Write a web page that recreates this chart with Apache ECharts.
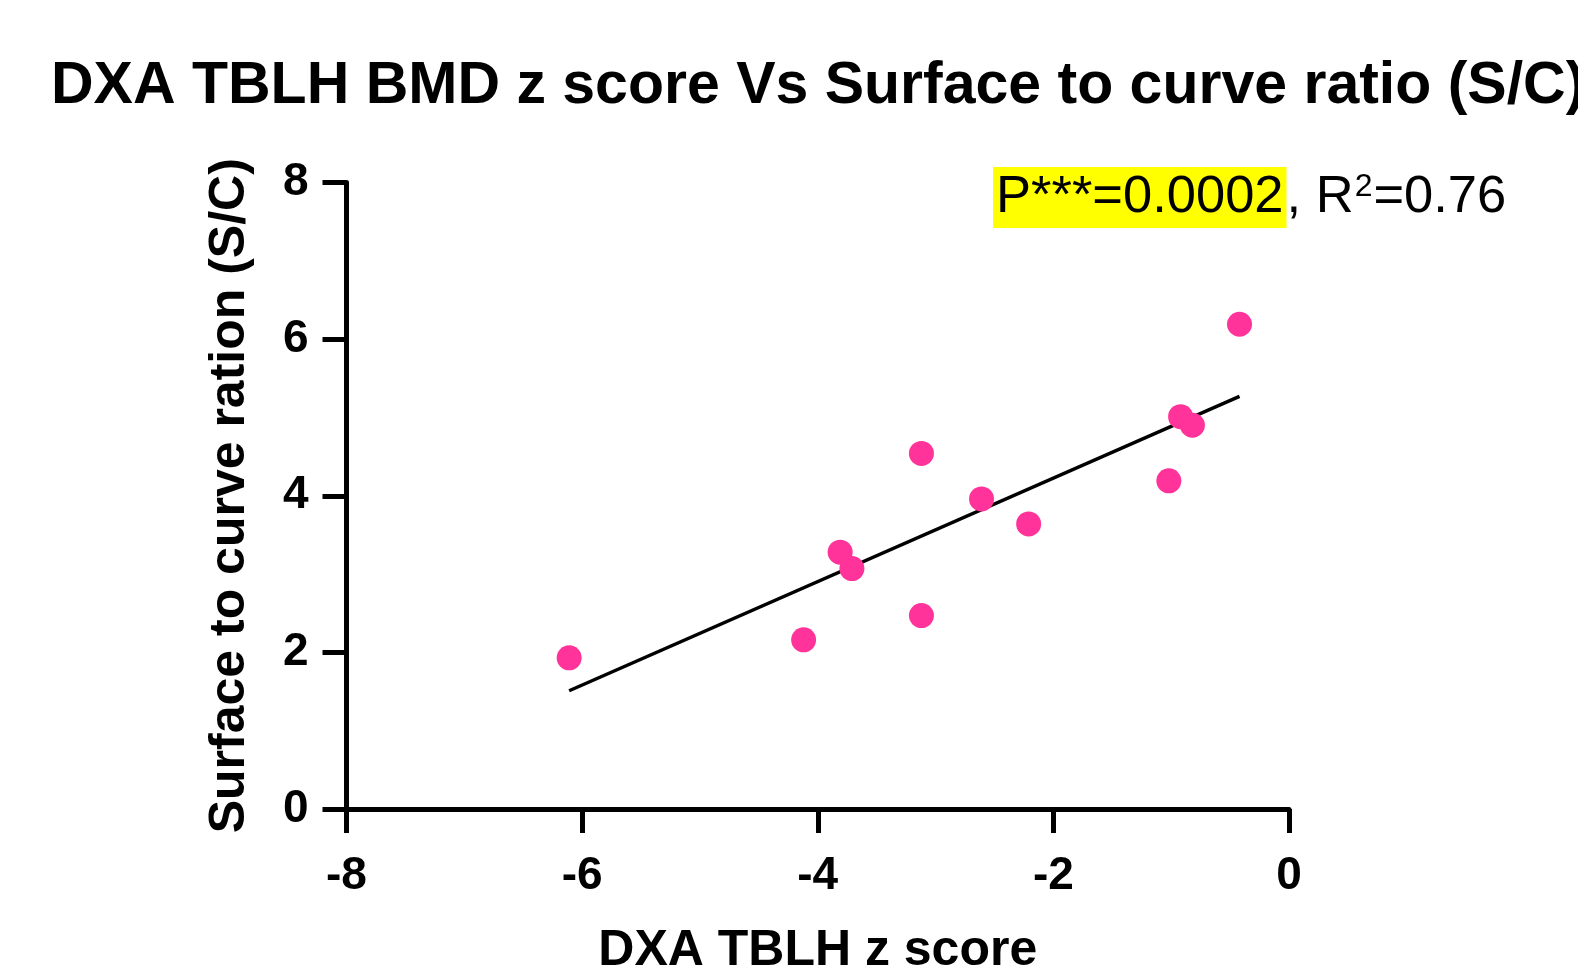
<!DOCTYPE html>
<html>
<head>
<meta charset="utf-8">
<script src="https://cdn.jsdelivr.net/npm/echarts@6/dist/echarts.min.js"></script>
<style>
html,body{margin:0;padding:0;background:#fff;}
#chart{width:1578px;height:969px;}
</style>
</head>
<body>
<div id="chart"></div>
<script>
const titleText = 'DXA TBLH BMD z score Vs Surface to curve ratio (S/C)';
const xAxisName = 'DXA TBLH z score';
const yAxisName = 'Surface to curve ration (S/C)';
const xTicks = [-8, -6, -4, -2, 0];
const yTicks = [0, 2, 4, 6, 8];
const zScores = [-6.11, -4.12, -3.81, -3.71, -3.12, -3.12, -2.61, -2.21, -1.02, -0.92, -0.82, -0.42];
const scRatios = [1.93, 2.16, 3.28, 3.07, 4.54, 2.47, 3.96, 3.64, 4.19, 5.01, 4.90, 6.19];
const fitX = [-6.11, -0.42];
const fitY = [1.51, 5.27];
const pText = 'P***=0.0002';
const rLetter = ', R';
const rSup = '2';
const rValue = '=0.76';

const points = zScores.map((x, i) => [x, scRatios[i]]);
const fitLine = fitX.map((x, i) => [x, fitY[i]]);

const chart = echarts.init(document.getElementById('chart'), null, {renderer: 'canvas'});
const font = 'Liberation Sans, Arial, Helvetica, sans-serif';
chart.setOption({
  backgroundColor: '#ffffff',
  animation: false,
  title: {
    text: titleText,
    left: 46,
    top: 52,
    textStyle: {fontFamily: font, fontWeight: 'bold', fontSize: 59, color: '#000'}
  },
  grid: {left: 346.5, right: 289, top: 182.5, bottom: 160, containLabel: false, outerBoundsMode: 'none'},
  xAxis: {
    type: 'value', min: xTicks[0], max: xTicks[xTicks.length - 1], interval: 2,
    name: xAxisName, nameLocation: 'middle', nameGap: 117,
    nameTextStyle: {fontFamily: font, fontWeight: 'bold', fontSize: 50, color: '#000'},
    axisLine: {show: true, onZero: false, lineStyle: {color: '#000', width: 5}},
    axisTick: {show: true, inside: false, length: 24, lineStyle: {color: '#000', width: 5}},
    axisLabel: {fontFamily: font, fontWeight: 'bold', fontSize: 46, color: '#000', margin: 44},
    splitLine: {show: false}
  },
  yAxis: {
    type: 'value', min: yTicks[0], max: yTicks[yTicks.length - 1], interval: 2,
    name: yAxisName, nameLocation: 'middle', nameGap: 91, nameRotate: 90,
    nameTextStyle: {fontFamily: font, fontWeight: 'bold', fontSize: 50, color: '#000'},
    axisLine: {show: true, onZero: false, lineStyle: {color: '#000', width: 5}},
    axisTick: {show: true, inside: false, length: 24, lineStyle: {color: '#000', width: 5}},
    axisLabel: {fontFamily: font, fontWeight: 'bold', fontSize: 46, color: '#000', margin: 38},
    splitLine: {show: false}
  },
  series: [
    {
      type: 'line', data: fitLine, showSymbol: false, symbol: 'none',
      lineStyle: {color: '#000', width: 3.5}, z: 2
    },
    {
      type: 'scatter', data: points, symbol: 'circle', symbolSize: 25,
      itemStyle: {color: '#ff3399', opacity: 1}, z: 3
    }
  ],
  graphic: [{
    type: 'text', left: 993, top: 167,
    style: {
      text: '{hl|' + pText + '}{n|' + rLetter + '}{sup|' + rSup + '}{n|' + rValue + '}',
      rich: {
        hl: {fontFamily: font, fontSize: 52.5, color: '#000', backgroundColor: '#ffff00', lineHeight: 61, height: 61, padding: [0, 3, 0, 3]},
        n: {fontFamily: font, fontSize: 52.5, color: '#000', lineHeight: 61, height: 61},
        sup: {fontFamily: font, fontSize: 32, color: '#000', lineHeight: 44, verticalAlign: 'top', padding: [4, 1, 0, 1]}
      }
    }
  }]
});
</script>
</body>
</html>
